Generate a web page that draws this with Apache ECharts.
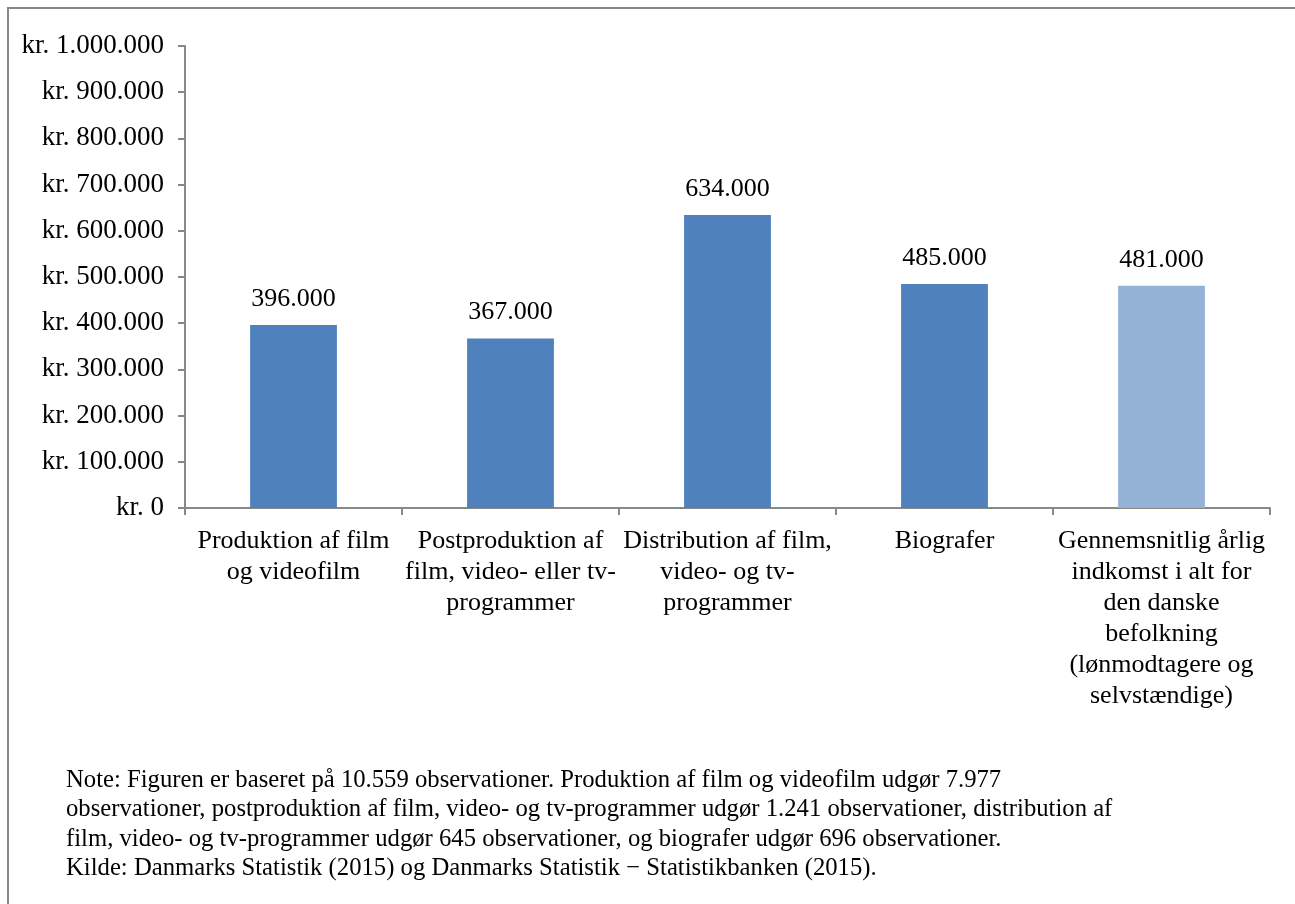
<!DOCTYPE html>
<html>
<head>
<meta charset="utf-8">
<script src="https://cdn.jsdelivr.net/npm/echarts@6/dist/echarts.min.js"></script>
<style>
  html, body { margin: 0; padding: 0; background: #fff; }
  #chart { width: 1295px; height: 904px; }
</style>
</head>
<body>
<div id="chart"></div>
<script>
const categories = [
  'Produktion af film\nog videofilm',
  'Postproduktion af\nfilm, video- eller tv-\nprogrammer',
  'Distribution af film,\nvideo- og tv-\nprogrammer',
  'Biografer',
  'Gennemsnitlig årlig\nindkomst i alt for\nden danske\nbefolkning\n(lønmodtagere og\nselvstændige)'
]
const incomes = [396000, 367000, 634000, 485000, 481000]
const barColors = ['#4F81BD', '#4F81BD', '#4F81BD', '#4F81BD', '#95B3D7']
const noteLines = [
  'Note: Figuren er baseret på 10.559 observationer. Produktion af film og videofilm udgør 7.977',
  'observationer, postproduktion af film, video- og tv-programmer udgør 1.241 observationer, distribution af',
  'film, video- og tv-programmer udgør 645 observationer, og biografer udgør 696 observationer.',
  'Kilde: Danmarks Statistik (2015) og Danmarks Statistik \u2212 Statistikbanken (2015).'
]

const serif = '"Liberation Serif", "Times New Roman", serif'
const fmt = (v) => String(v).replace(/\B(?=(\d{3})+(?!\d))/g, '.')

const chart = echarts.init(document.getElementById('chart'))

chart.setOption({
  animation: false,
  backgroundColor: '#fff',
  textStyle: { fontFamily: serif, color: '#000' },
  grid: { left: 185, right: 25, top: 46, bottom: 396 },
  xAxis: {
    type: 'category',
    data: categories,
    axisLine: { lineStyle: { color: '#888', width: 2 } },
    axisTick: { show: true, length: 7, lineStyle: { color: '#888', width: 2 } },
    axisLabel: { fontFamily: serif, fontSize: 26, color: '#000', lineHeight: 31, margin: 18, interval: 0 }
  },
  yAxis: {
    type: 'value',
    min: 0,
    max: 1000000,
    interval: 100000,
    axisLine: { show: true, lineStyle: { color: '#888', width: 2 } },
    axisTick: { show: true, length: 7, lineStyle: { color: '#888', width: 2 } },
    splitLine: { show: false },
    axisLabel: {
      fontFamily: serif, fontSize: 27, color: '#000', margin: 21,
      formatter: (v) => 'kr. ' + fmt(v)
    }
  },
  series: [{
    type: 'bar',
    barWidth: '40%',
    data: incomes.map((v, i) => ({ value: v, itemStyle: { color: barColors[i] } })),
    label: {
      show: true,
      position: 'top',
      distance: 13,
      fontFamily: serif,
      fontSize: 26,
      color: '#000',
      formatter: (p) => fmt(p.value)
    }
  }],
  graphic: [
    {
      type: 'rect',
      shape: { x: 8, y: 8, width: 1300, height: 910 },
      style: { fill: 'none', stroke: '#888', lineWidth: 2 },
      silent: true
    },
    {
      type: 'text',
      left: 66,
      top: 766,
      style: {
        text: noteLines.join('\n'),
        font: '24.7px ' + serif,
        fill: '#000',
        lineHeight: 29.3
      }
    }
  ]
})
</script>
</body>
</html>
